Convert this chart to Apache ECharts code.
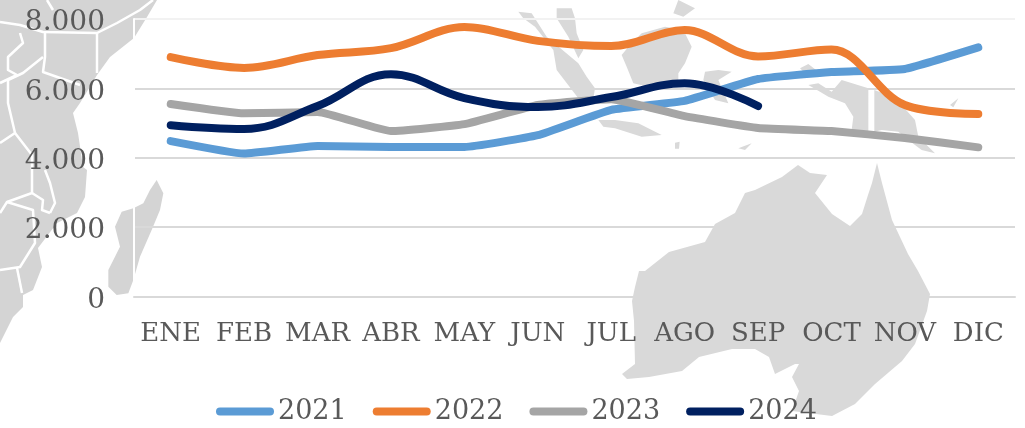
<!DOCTYPE html>
<html>
<head>
<meta charset="utf-8">
<style>
  html, body { margin: 0; padding: 0; background: #fff; }
  #main { width: 1025px; height: 428px; }
</style>
<script src="https://cdn.jsdelivr.net/npm/echarts@6/dist/echarts.min.js"></script>
</head>
<body>
<div id="main"></div>
<script>
const months = ['ENE', 'FEB', 'MAR', 'ABR', 'MAY', 'JUN', 'JUL', 'AGO', 'SEP', 'OCT', 'NOV', 'DIC'];
const values2021 = [4480, 4120, 4340, 4310, 4310, 4650, 5380, 5640, 6270, 6470, 6560, 7180];
const values2022 = [6900, 6590, 6960, 7160, 7770, 7370, 7220, 7680, 6920, 7120, 5520, 5260];
const values2023 = [5550, 5280, 5320, 4770, 4970, 5520, 5690, 5200, 4860, 4770, 4570, 4300];
const values2024 = [4940, 4830, 5490, 6410, 5720, 5460, 5750, 6150, 5490];

const textColor = '#595959';
const serif = '"DejaVu Serif", serif';
const pill = 'path://M4 0H54A4 4 0 0 1 54 8H4A4 4 0 0 1 4 0Z';

// background map, traced by hand from 3x crops
const crop = (ox, oy, pts) => pts.map(p => [ox + p[0] / 3, oy + p[1] / 3]);
const land = [
    // africa
    [[0, 0], [157, 0], [147, 17], [134, 38], [110, 57], [97, 75], [80, 103], [73, 113], [78, 133], [83, 167], [87, 170], [85, 197], [77, 213], [57, 223], [38, 248], [42, 267], [33, 290], [23, 295], [23, 307], [13, 317], [0, 343]],
    // madagascar
    crop(0, 170, [[470, 30], [490, 70], [480, 120], [455, 180], [420, 260], [400, 330], [385, 370], [350, 375], [325, 350], [325, 300], [360, 230], [345, 170], [365, 125], [400, 115], [430, 100], [450, 60]]),
    // australia
    [[735, 213], [745, 193], [755, 190], [782, 177], [798, 165], [810, 173], [827, 175], [815, 193], [832, 214], [850, 226], [862, 214], [868, 195], [872, 183], [877, 163], [882, 183], [892, 220], [908, 254], [918, 271], [930, 294], [927, 311], [915, 344], [902, 361], [875, 384], [855, 404], [832, 416], [792, 411], [799, 391], [792, 377], [799, 364], [795, 364], [775, 374], [769, 357], [755, 349], [732, 349], [699, 357], [682, 371], [649, 377], [627, 379], [622, 374], [635, 364], [634, 321], [632, 301], [635, 287], [639, 271], [645, 271], [669, 252], [705, 242], [715, 224]],
    // sumatra
    crop(515, 0, [[10, 35], [50, 40], [95, 110], [190, 190], [215, 230], [240, 265], [235, 295], [190, 295], [125, 210], [115, 150], [60, 80], [25, 55]]),
    // malay peninsula
    crop(515, 0, [[125, 25], [170, 25], [180, 55], [185, 100], [205, 150], [190, 175], [160, 110], [125, 55]]),
    // borneo
    crop(515, 0, [[320, 165], [345, 135], [380, 100], [450, 80], [505, 90], [530, 140], [510, 190], [490, 220], [490, 245], [400, 260], [355, 250], [335, 200]]),
    // philippines
    crop(515, 0, [[475, 40], [490, 0], [540, 25], [505, 50]]),
    // java
    crop(515, 0, [[250, 360], [300, 360], [370, 370], [440, 405], [380, 410], [300, 385], [265, 380]]),
    // sulawesi
    crop(515, 0, [[565, 240], [570, 215], [610, 210], [650, 215], [610, 240], [640, 310], [600, 300]]),
    // new guinea
    crop(755, 50, [[160, 105], [190, 100], [230, 125], [260, 90], [340, 115], [340, 245], [290, 240], [295, 200], [270, 160], [220, 140], [195, 125]]),
    crop(755, 50, [[358, 120], [400, 135], [440, 165], [480, 210], [490, 260], [540, 310], [500, 300], [460, 270], [430, 245], [380, 240], [358, 245]]),
    // small islands
    crop(755, 50, [[135, 55], [160, 42], [190, 65], [150, 70]]),
    crop(755, 50, [[585, 165], [610, 145], [595, 172]]),
    crop(515, 0, [[480, 428], [494, 425], [492, 446], [480, 446]]),
    crop(515, 0, [[670, 445], [710, 430], [690, 450]])
];
const borders = [
    [[0, 22], [20, 25], [43, 32], [97, 33], [117, 23], [140, 10], [153, 0]],
    [[47, 0], [53, 10]],
    [[97, 33], [97, 73]],
    [[45, 32], [45, 57], [43, 72], [80, 85]],
    [[20, 33], [23, 43], [8, 57], [8, 70], [17, 75], [0, 83]],
    [[43, 57], [23, 73], [8, 80], [8, 103], [15, 133], [0, 143]],
    [[15, 133], [32, 155], [32, 193], [7, 202], [0, 213]],
    [[45, 170], [50, 183], [55, 203], [50, 213]],
    [[32, 193], [43, 200], [42, 210], [50, 213]],
    [[7, 202], [33, 210], [35, 243], [20, 267], [0, 270]],
    [[17, 268], [22, 293]]
];

const mapElements = land.map((pts, i) => ({
    type: 'polygon',
    silent: true,
    z: -10,
    shape: { points: pts },
    style: { fill: i < 2 ? '#d4d4d4' : '#d9d9d9' }
})).concat(borders.map(pts => ({
    type: 'polyline',
    silent: true,
    z: -9,
    shape: { points: pts },
    style: { fill: 'none', stroke: '#fff', lineWidth: 2.5, lineJoin: 'round' }
})));

function makeSeries(name, data, color, smooth) {
    return {
        name: name,
        type: 'line',
        data: data,
        smooth: smooth,
        symbol: 'none',
        itemStyle: { color: color },
        lineStyle: { color: color, width: 8, cap: 'round', join: 'round' }
    };
}

const chart = echarts.init(document.getElementById('main'));
chart.setOption({
    animation: false,
    backgroundColor: '#fff',
    graphic: { elements: mapElements },
    grid: { left: 134, top: 19, width: 881, height: 277.5 },
    legend: {
        left: 211,
        top: 393,
        icon: pill,
        itemWidth: 58,
        itemHeight: 8,
        itemGap: 26,
        textStyle: { color: textColor, fontFamily: serif, fontSize: 27, padding: [0, 0, 0, -1] },
        data: ['2021', '2022', '2023', '2024']
    },
    xAxis: {
        type: 'category',
        data: months,
        axisTick: { show: false },
        axisLine: { lineStyle: { color: '#d9d9d9', width: 2 } },
        axisLabel: { color: textColor, fontFamily: serif, fontSize: 26, margin: 25, interval: 0 }
    },
    yAxis: {
        type: 'value',
        min: 0,
        max: 8000,
        interval: 2000,
        axisLine: { show: true, lineStyle: { color: '#fff', width: 2 } },
        axisTick: { show: false },
        splitLine: { lineStyle: { color: ['#d9d9d9', '#d9d9d9', '#d9d9d9', '#d9d9d9', '#f2f2f2'], width: 2 } },
        axisLabel: {
            color: textColor,
            fontFamily: serif,
            fontSize: 28,
            margin: 29,
            verticalAlign: 'top',
            lineHeight: 8,
            formatter: function (v) {
                return String(v).replace(/\B(?=(\d{3})+$)/g, '.');
            }
        }
    },
    series: [
        makeSeries('2021', values2021, '#5b9bd5', 0.12),
        makeSeries('2022', values2022, '#ed7d31', 0.35),
        makeSeries('2023', values2023, '#a5a5a5', 0.12),
        makeSeries('2024', values2024, '#002060', 0.4)
    ]
});
</script>
</body>
</html>
